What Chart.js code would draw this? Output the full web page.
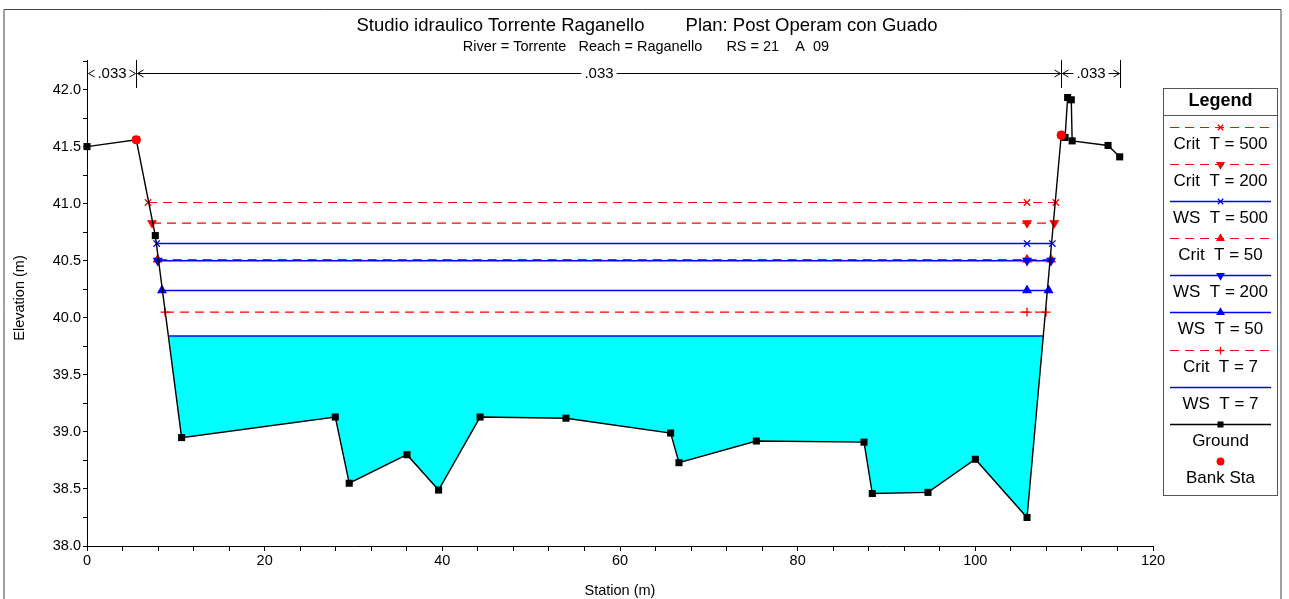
<!DOCTYPE html>
<html>
<head>
<meta charset="utf-8">
<script src="https://cdn.jsdelivr.net/npm/chart.js@4.4.0/dist/chart.umd.min.js"></script>
<style>
  html, body { margin:0; padding:0; background:#fff; }
  #wrap { width:1289px; height:599px; }
</style>
</head>
<body>
<div id="wrap"><canvas id="c" width="1289" height="599"></canvas></div>
<script>
/* sezione trasversale RS 21 - HEC-RAS style */

// terreno (stazione m, quota m)
const groundX = [0, 5.55, 7.69, 10.65, 27.95, 29.52, 36.02, 39.58, 44.25, 53.92, 65.70, 66.64, 75.35, 87.47, 88.40, 94.67, 100.0, 105.82, 109.67, 110.1, 110.39, 110.8, 110.9, 114.94, 116.25];
const groundY = [41.50, 41.56, 40.72, 38.95, 39.13, 38.55, 38.80, 38.49, 39.13, 39.12, 38.99, 38.73, 38.92, 38.91, 38.46, 38.47, 38.76, 38.25, 41.60, 41.58, 41.93, 41.91, 41.55, 41.51, 41.41];

// sponde
const bankX = [5.55, 109.67];
const bankY = [41.56, 41.60];

// profili (ordine della legenda)
const profileNames = ['Crit  T = 500', 'Crit  T = 200', 'WS  T = 500', 'Crit  T = 50', 'WS  T = 200', 'WS  T = 50', 'Crit  T = 7', 'WS  T = 7'];
const profileLevel = [41.01, 40.83, 40.65, 40.51, 40.50, 40.24, 40.05, 39.84];
const profileLeft  = [6.87, 7.32, 7.84, 7.95, 7.96, 8.44, 8.78, 9.23];
const profileRight = [109.06, 108.89, 108.67, 108.53, 108.52, 108.25, 107.96, 107.69];
const profileMid = 105.82;

// scabrezza Manning
const manningStations = [0, 5.55, 109.67, 116.25];
const manningN = ['.033', '.033', '.033'];

const RED = '#ff0000', BLUE = '#0000ff';
const profileStyle = [
  { color: RED,  dash: [9,6], point: 'crossRot', rot: 0 },
  { color: RED,  dash: [9,6], point: 'triangle', rot: 180 },
  { color: BLUE, dash: [],    point: 'crossRot', rot: 0 },
  { color: RED,  dash: [9,6], point: 'triangle', rot: 0 },
  { color: BLUE, dash: [],    point: 'triangle', rot: 180 },
  { color: BLUE, dash: [],    point: 'triangle', rot: 0 },
  { color: RED,  dash: [9,6], point: 'cross',    rot: 0 },
  { color: BLUE, dash: [],    point: false,      rot: 0 }
];

const ground = groundX.map((x,i)=>({ x, y: groundY[i] }));

// poligono dell'acqua T=7 (pelo libero + fondo)
const wsIdx = profileNames.length - 1;
const water = [{ x: profileLeft[wsIdx], y: profileLevel[wsIdx] }]
  .concat(ground.filter(p => p.x > profileLeft[wsIdx] && p.x < profileRight[wsIdx]))
  .concat([{ x: profileRight[wsIdx], y: profileLevel[wsIdx] }]);

const datasets = [];
datasets.push({
  label: 'water', data: water, showLine: true, fill: 'shape',
  backgroundColor: '#00ffff', borderColor: 'rgba(0,0,0,0)', borderWidth: 0,
  pointRadius: 0, order: 20
});
profileNames.forEach((name, i) => {
  const st = profileStyle[i];
  const pts = st.point
    ? [profileLeft[i], profileMid, profileRight[i]].map(x => ({ x, y: profileLevel[i] }))
    : [profileLeft[i], profileRight[i]].map(x => ({ x, y: profileLevel[i] }));
  datasets.push({
    label: name, data: pts, showLine: true, fill: false,
    borderColor: st.color, backgroundColor: st.color, borderWidth: st.color === BLUE ? 1.5 : 1.2,
    borderDash: st.dash,
    pointStyle: st.point || 'circle', pointRadius: st.point ? 4.5 : 0, pointRotation: st.rot,
    pointBorderColor: st.color, pointBackgroundColor: st.color, pointBorderWidth: 1.3,
    order: 10 - i * 0.1
  });
});
datasets.push({
  label: 'Ground', data: ground, showLine: true, fill: false, clip: false,
  borderColor: '#000', borderWidth: 1.4,
  pointStyle: 'rect', pointRadius: 5, pointBackgroundColor: '#000', pointBorderColor: '#000', pointBorderWidth: 0,
  order: 2
});
datasets.push({
  label: 'Bank Sta', data: bankX.map((x,i)=>({ x, y: bankY[i] })), showLine: false, clip: false,
  pointStyle: 'circle', pointRadius: 4.6, pointBackgroundColor: RED, pointBorderColor: RED, pointBorderWidth: 0,
  order: 1
});

const FONT = '"Liberation Sans", Arial, Helvetica, sans-serif';

// titoli, cornice, scabrezza e legenda
const decoPlugin = {
  id: 'deco',
  afterDraw(chart) {
    const ctx = chart.ctx, xs = chart.scales.x;
    ctx.save();

    // cornice esterna
    ctx.strokeStyle = '#444'; ctx.lineWidth = 1;
    ctx.beginPath();
    ctx.moveTo(4, 700); ctx.lineTo(4, 9.5); ctx.lineTo(1281, 9.5); ctx.lineTo(1281, 700);
    ctx.stroke();

    // titoli
    ctx.fillStyle = '#000'; ctx.textAlign = 'center'; ctx.textBaseline = 'middle';
    ctx.font = '18.5px ' + FONT;
    ctx.fillText('Studio idraulico Torrente Raganello        Plan: Post Operam con Guado', 647, 26);
    ctx.font = '14.5px ' + FONT;
    ctx.fillText('River = Torrente   Reach = Raganello      RS = 21    A  09', 646, 47);

    // titoli assi
    ctx.font = '14.5px ' + FONT;
    ctx.fillText('Station (m)', (chart.chartArea.left + chart.chartArea.right) / 2, 591);
    ctx.save();
    ctx.translate(20, 298); ctx.rotate(-Math.PI / 2);
    ctx.fillText('Elevation (m)', 0, 0);
    ctx.restore();

    // scabrezza
    const yA = 73;
    ctx.strokeStyle = '#000'; ctx.lineWidth = 1;
    ctx.font = '15px ' + FONT;
    manningStations.forEach(s => {
      const px = Math.round(xs.getPixelForValue(s)) + 0.5;
      ctx.beginPath(); ctx.moveTo(px, 60); ctx.lineTo(px, 88); ctx.stroke();
    });
    manningN.forEach((n, i) => {
      const x1 = Math.round(xs.getPixelForValue(manningStations[i])) + 0.5;
      const x2 = Math.round(xs.getPixelForValue(manningStations[i+1])) + 0.5;
      const cx = (x1 + x2) / 2;
      const w = ctx.measureText(n).width;
      ctx.fillText(n, cx, yA + 1);
      ctx.beginPath();
      if (cx - w/2 - 3 > x1 + 8) {
        ctx.moveTo(x1 + 1, yA + 0.5); ctx.lineTo(cx - w/2 - 3, yA + 0.5);
        ctx.moveTo(cx + w/2 + 3, yA + 0.5); ctx.lineTo(x2 - 1, yA + 0.5);
      }
      // frecce
      ctx.moveTo(x1 + 7, yA - 3); ctx.lineTo(x1 + 1, yA + 0.5); ctx.lineTo(x1 + 7, yA + 4);
      ctx.moveTo(x2 - 7, yA - 3); ctx.lineTo(x2 - 1, yA + 0.5); ctx.lineTo(x2 - 7, yA + 4);
      ctx.stroke();
    });

    // legenda
    const L = 1163, R = 1277, T = 88, B = 495;
    ctx.strokeStyle = '#555'; ctx.lineWidth = 1;
    ctx.strokeRect(L + 0.5, T + 0.5, R - L, B - T);
    ctx.beginPath(); ctx.moveTo(L, 115.5); ctx.lineTo(R + 1, 115.5); ctx.stroke();
    ctx.fillStyle = '#000';
    ctx.font = 'bold 18px ' + FONT;
    ctx.fillText('Legend', (L + R) / 2 + 0.5, 101);

    const items = chart.data.datasets.filter(d => d.label !== 'water');
    const cx = (L + R) / 2 + 0.5;
    items.forEach((d, i) => {
      const ly = Math.round(126.7 + i * 37.15) + 0.5;
      const ty = ly + 17;
      if (d.showLine) {
        ctx.save();
        ctx.strokeStyle = d.borderColor; ctx.lineWidth = d.borderWidth;
        ctx.setLineDash(d.borderDash || []);
        ctx.beginPath(); ctx.moveTo(1170, ly); ctx.lineTo(1271, ly); ctx.stroke();
        ctx.restore();
      }
      if (d.pointRadius > 0) {
        ctx.save();
        ctx.fillStyle = d.pointBackgroundColor; ctx.strokeStyle = d.pointBorderColor;
        ctx.lineWidth = d.pointBorderWidth || 0;
        Chart.helpers.drawPoint(ctx, {
          pointStyle: d.pointStyle, radius: d.pointRadius * 0.85, rotation: d.pointRotation || 0,
          borderWidth: d.pointBorderWidth || 0
        }, cx, ly);
        ctx.restore();
      }
      ctx.fillStyle = '#000';
      ctx.font = '17px ' + FONT;
      ctx.fillText(d.label, cx, ty);
    });

    ctx.restore();
  }
};

new Chart(document.getElementById('c'), {
  type: 'scatter',
  data: { datasets },
  options: {
    responsive: false,
    animation: false,
    events: [],
    devicePixelRatio: 1,
    layout: { padding: { top: 61, right: 136, left: 0, bottom: 0 } },
    plugins: { legend: { display: false }, tooltip: { enabled: false } },
    scales: {
      x: {
        type: 'linear', min: 0, max: 120,
        afterFit: s => { s.height = 53; },
        border: { color: '#000', width: 1 },
        grid: { drawOnChartArea: false, drawTicks: true, tickLength: 5, tickColor: '#000' },
        ticks: {
          stepSize: 4, autoSkip: false, maxRotation: 0, color: '#000', padding: 1,
          font: { family: FONT, size: 14.5 },
          callback: v => (Math.abs(v % 20) < 1e-6 ? String(v) : '')
        }
      },
      y: {
        type: 'linear', min: 38, max: 42.25,
        afterFit: s => { s.width = 87; },
        border: { color: '#000', width: 1 },
        grid: { drawOnChartArea: false, drawTicks: true, tickLength: 4, tickColor: '#000' },
        ticks: {
          stepSize: 0.25, autoSkip: false, color: '#000', padding: 2,
          font: { family: FONT, size: 14.5 },
          callback: v => (Math.abs(v * 2 - Math.round(v * 2)) < 1e-6 && v < 42.1 ? v.toFixed(1) : '')
        }
      }
    }
  },
  plugins: [decoPlugin]
});
</script>
</body>
</html>
